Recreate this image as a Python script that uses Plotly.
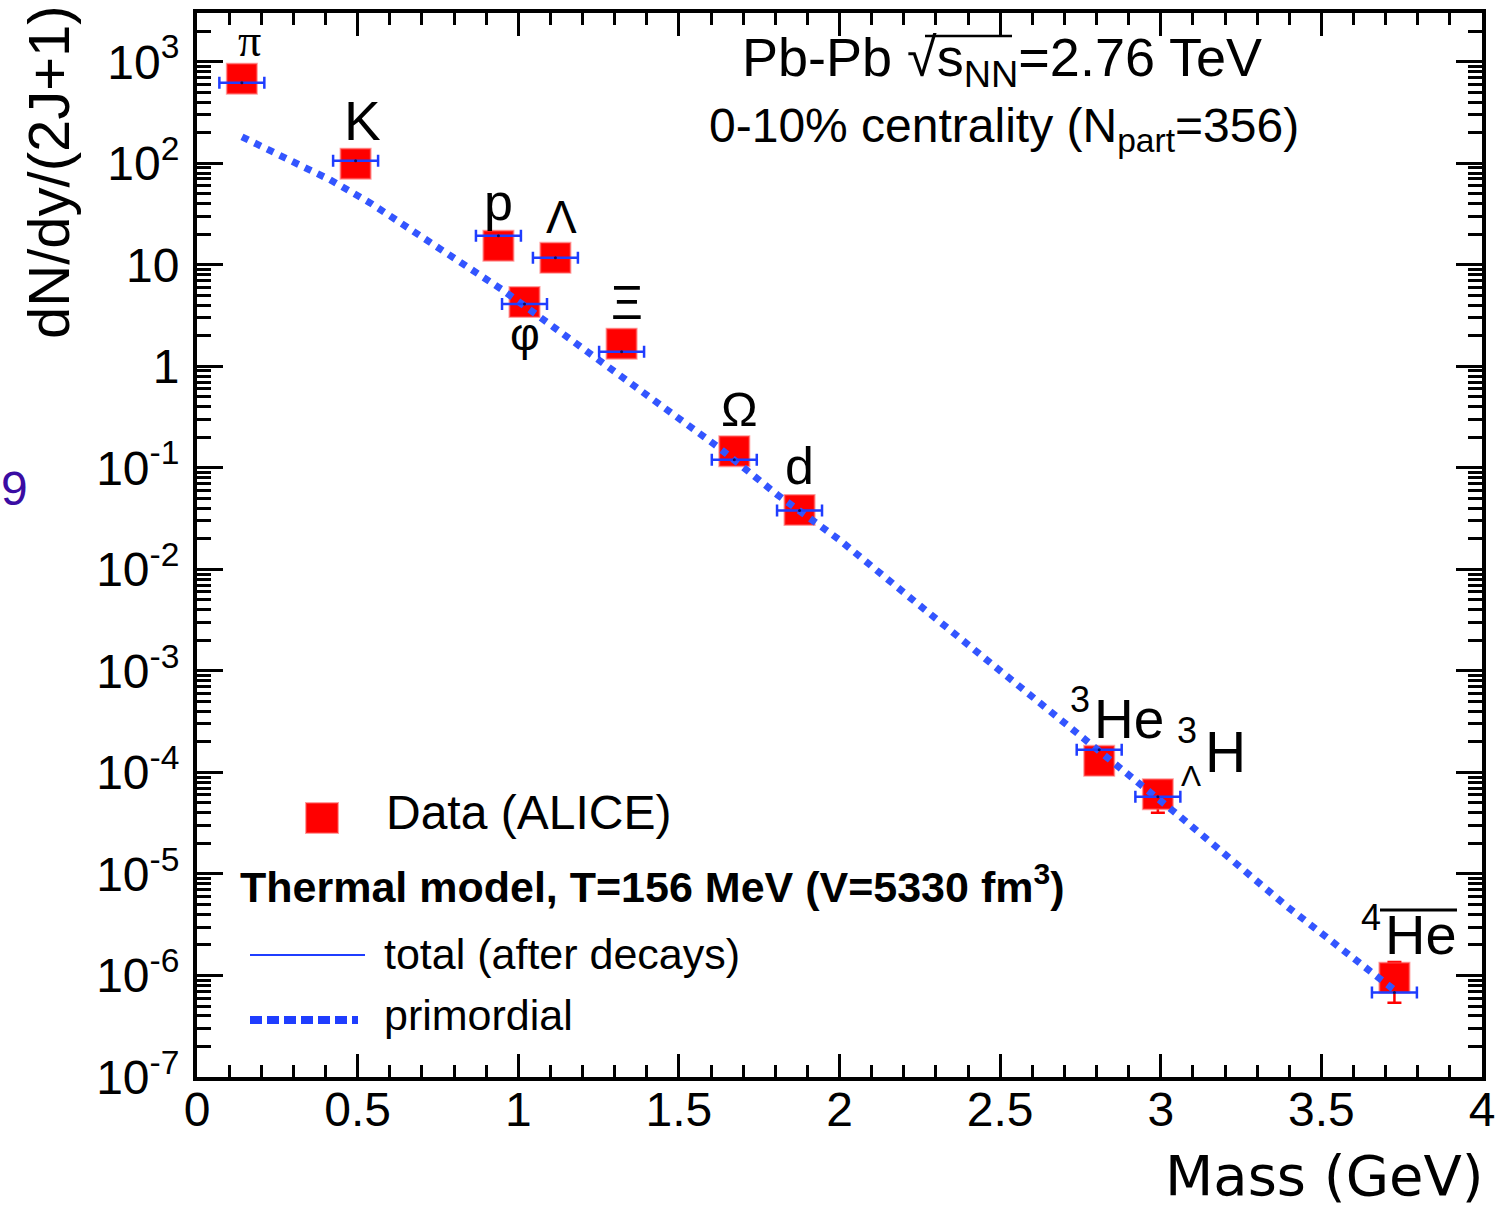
import numpy as np
import plotly.graph_objects as go

# ---------------- data ----------------
particles = ["π", "K", "p", "φ", "Λ", "Ξ", "Ω", "d", "3He", "3LH", "4He"]
mass = [0.1396, 0.4937, 0.9383, 1.0195, 1.1157, 1.3217, 1.6725, 1.8756, 2.8084, 2.991, 3.7274]
data_yield = [680, 99, 15.4, 4.3, 11.7, 1.67, 0.146, 0.0385, 1.3e-4, 6.1e-5, 9.5e-7]
data_err = [0, 0, 0, 0, 0, 0, 0, 0, 0, 2.1e-5, 4.1e-7]
model_total = [620, 106, 19.3, 4.1, 11.7, 1.39, 0.12, 0.038, 1.67e-4, 5.75e-5, 6.8e-7]

prim_mass = [0.14, 0.28, 0.414, 0.539, 0.704, 0.829, 0.95, 1.109, 1.265, 1.464, 1.62, 1.807,
             2.0, 2.25, 2.50, 2.76, 3.062, 3.395, 3.695, 3.727]
prim_yield = [182, 110.7, 68.7, 40.7, 18.5, 10.2, 5.68, 2.45, 1.08, 0.372, 0.162, 0.0542,
              0.0195, 4.4e-3, 1.02e-3, 2.19e-4, 3.63e-5, 4.73e-6, 8.5e-7, 7.2e-7]

ytick_vals = [1e-7, 1e-6, 1e-5, 1e-4, 1e-3, 1e-2, 1e-1, 1, 10, 100, 1000]
ytick_text = ["10<sup>-7</sup>", "10<sup>-6</sup>", "10<sup>-5</sup>", "10<sup>-4</sup>",
              "10<sup>-3</sup>", "10<sup>-2</sup>", "10<sup>-1</sup>", "1", "10",
              "10<sup>2</sup>", "10<sup>3</sup>"]

FONT = "Liberation Sans"
BLUE = "#1f3dff"
DOT_BLUE = "#3355ff"

# plot area in pixels
L, R, T, B = 197, 1482, 13, 1077
W, H = 1499, 1212
PW, PH = R - L, B - T


def px(x):
    return (x - L) / PW


def py(y):
    return (B - y) / PH


fig = go.Figure()

# data squares
fig.add_trace(go.Scatter(
    x=mass, y=data_yield, mode="markers",
    marker=dict(symbol="square", size=30, color="#ff0000",
                line=dict(color="rgba(255,80,80,0.55)", width=2)),
    error_y=dict(type="data", array=data_err, color="#ff0000", thickness=2.5, width=7),
    showlegend=False, hoverinfo="skip"))

# primordial dotted line
fig.add_trace(go.Scatter(
    x=prim_mass, y=prim_yield, mode="lines",
    line=dict(color=DOT_BLUE, width=7, dash="dot"),
    showlegend=False, hoverinfo="skip"))

# model total (horizontal bars)
fig.add_trace(go.Scatter(
    x=mass, y=model_total, mode="markers",
    marker=dict(size=3, color="#101060"),
    error_x=dict(type="constant", value=0.07, color=BLUE, thickness=2.5, width=6),
    showlegend=False, hoverinfo="skip"))

fig.update_xaxes(
    range=[0, 4], tickmode="linear", tick0=0, dtick=0.5, automargin=False,
    ticks="inside", ticklen=23, tickwidth=3, tickcolor="black",
    minor=dict(ticks="inside", ticklen=12, tickwidth=3, tickcolor="black", dtick=0.1, showgrid=False),
    showline=True, linewidth=4, linecolor="black", mirror="allticks",
    showgrid=False, zeroline=False,
    tickfont=dict(family=FONT, size=48, color="black"), ticklabelstandoff=-13)

minor_vals = [m * 10.0 ** e for e in range(-7, 4) for m in range(2, 10)]
fig.update_yaxes(
    type="log", range=[-7, 3.48], tickmode="array", tickvals=ytick_vals, ticktext=ytick_text,
    automargin=False,
    ticks="inside", ticklen=26, tickwidth=3, tickcolor="black",
    minor=dict(ticks="inside", ticklen=14, tickwidth=3, tickcolor="black",
               tickmode="array", tickvals=minor_vals, showgrid=False),
    showline=True, linewidth=4, linecolor="black", mirror="allticks",
    showgrid=False, zeroline=False,
    tickfont=dict(family=FONT, size=48, color="black"), ticklabelstandoff=4)

annotations = []

# particle labels: (text, particle index, dx px, dy px, size, family)
labels = [
    ("π", 0, 8, 38, 46, "Liberation Serif"),
    ("K", 1, 7, 43, 55, FONT),
    ("p", 2, 0, 44, 52, FONT),
    ("φ", 3, 0, -32, 46, FONT),
    ("Λ", 4, 6, 41, 46, FONT),
    ("Ξ", 5, 5, 42, 49, FONT),
    ("Ω", 6, 5, 42, 49, FONT),
    ("d", 7, 0, 44, 52, FONT),
    ("3", 8, -19, 61, 36, FONT),
    ("He", 8, 30, 42, 55, FONT),
    ("3", 9, 29, 64, 36, FONT),
    ("Λ", 9, 33, 19, 30, FONT),
    ("H", 9, 68, 42, 57, FONT),
    ("4", 10, -23, 60, 36, FONT),
    ("He", 10, 27, 43, 56, FONT),
]
for txt, i, dx, dy, fs, fam in labels:
    annotations.append(dict(
        x=mass[i], y=np.log10(data_yield[i]), xref="x", yref="y",
        text=txt, showarrow=False, xshift=dx, yshift=dy,
        font=dict(family=fam, size=fs, color="black"),
        xanchor="center", yanchor="middle"))

# header texts
annotations.append(dict(x=px(1002), y=py(61), xref="paper", yref="paper",
                        text="Pb-Pb √s<sub>NN</sub>=2.76 TeV", showarrow=False,
                        font=dict(family=FONT, size=54, color="black"),
                        xanchor="center", yanchor="middle"))
annotations.append(dict(x=px(1004), y=py(129), xref="paper", yref="paper",
                        text="0-10% centrality (N<sub>part</sub>=356)", showarrow=False,
                        font=dict(family=FONT, size=48, color="black"),
                        xanchor="center", yanchor="middle"))

# legend texts
annotations.append(dict(x=px(384), y=py(812), xref="paper", yref="paper",
                        text="Data (ALICE)", showarrow=False,
                        font=dict(family=FONT, size=48, color="black"),
                        xanchor="left", yanchor="middle"))
annotations.append(dict(x=px(238), y=py(884), xref="paper", yref="paper",
                        text="<b>Thermal model, T=156 MeV (V=5330 fm<sup>3</sup>)</b>", showarrow=False,
                        font=dict(family=FONT, size=43, color="black"),
                        xanchor="left", yanchor="middle"))
annotations.append(dict(x=px(382), y=py(954), xref="paper", yref="paper",
                        text="total (after decays)", showarrow=False,
                        font=dict(family=FONT, size=43, color="black"),
                        xanchor="left", yanchor="middle"))
annotations.append(dict(x=px(382), y=py(1015), xref="paper", yref="paper",
                        text="primordial", showarrow=False,
                        font=dict(family=FONT, size=43, color="black"),
                        xanchor="left", yanchor="middle"))

# axis titles
annotations.append(dict(x=px(48), y=py(172), xref="paper", yref="paper",
                        text="dN/dy/(2J+1)", showarrow=False, textangle=-90,
                        font=dict(family=FONT, size=58, color="black"),
                        xanchor="center", yanchor="middle"))
annotations.append(dict(x=px(1486), y=py(1175), xref="paper", yref="paper",
                        text="Mass (GeV)", showarrow=False,
                        font=dict(family="DejaVu Sans", size=56, color="black"),
                        xanchor="right", yanchor="middle"))
# stray page number
annotations.append(dict(x=px(30), y=py(489), xref="paper", yref="paper",
                        text="9", showarrow=False,
                        font=dict(family=FONT, size=48, color="#3a0ca3"),
                        xanchor="right", yanchor="middle"))

shapes = []
# legend symbols
shapes.append(dict(type="rect", xref="paper", yref="paper",
                   x0=px(306), x1=px(338), y0=py(833), y1=py(803),
                   fillcolor="#ff0000", line=dict(color="rgba(255,80,80,0.55)", width=2)))
shapes.append(dict(type="line", xref="paper", yref="paper",
                   x0=px(250), x1=px(365), y0=py(955), y1=py(955),
                   line=dict(color=BLUE, width=2)))
shapes.append(dict(type="line", xref="paper", yref="paper",
                   x0=px(250), x1=px(358), y0=py(1020), y1=py(1020),
                   line=dict(color=BLUE, width=8, dash="12px,5px")))
# overline for anti-alpha label
shapes.append(dict(type="line", xref="paper", yref="paper",
                   x0=px(1380), x1=px(1457), y0=py(910), y1=py(910),
                   line=dict(color="black", width=3)))
# square-root bar over s_NN
shapes.append(dict(type="line", xref="paper", yref="paper",
                   x0=px(925), x1=px(1012), y0=py(36), y1=py(36),
                   line=dict(color="black", width=2.5)))

fig.update_layout(
    width=W, height=H, autosize=False,
    margin=dict(l=L, r=W - R, t=T, b=H - B, pad=0, autoexpand=False),
    plot_bgcolor="white", paper_bgcolor="white",
    showlegend=False,
    annotations=annotations, shapes=shapes)

fig.write_html("out.html",
               config={"responsive": False, "displayModeBar": False},
               post_script="document.body.style.margin='0px';")
